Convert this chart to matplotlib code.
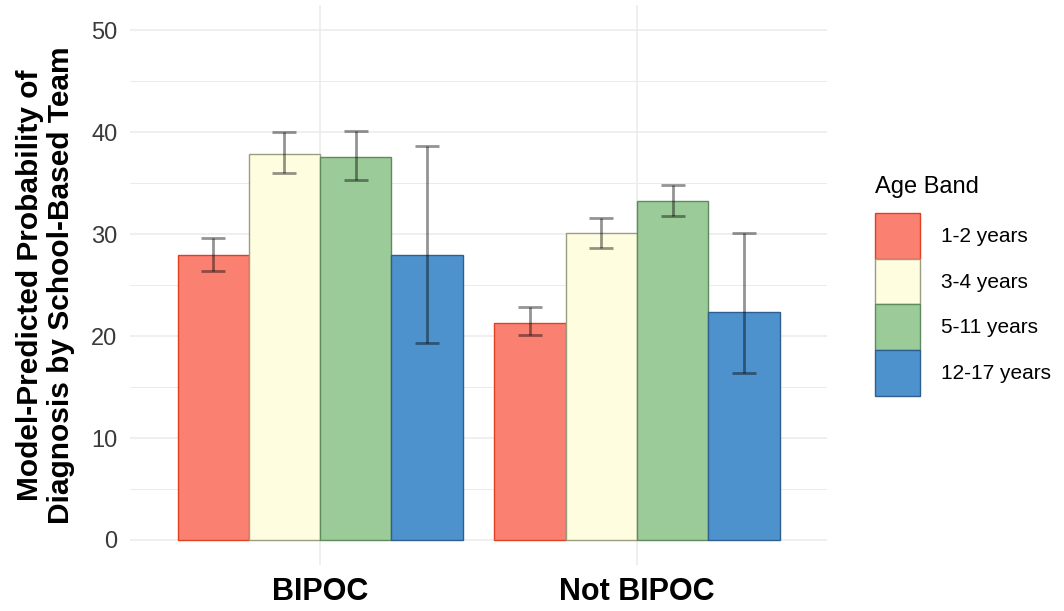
import numpy as np
import matplotlib
matplotlib.use('Agg')
import matplotlib.pyplot as plt
from matplotlib.patches import Patch

plt.rcParams['font.family'] = ['Liberation Sans', 'DejaVu Sans']

groups = ['BIPOC', 'Not BIPOC']
age_bands = ['1-2 years', '3-4 years', '5-11 years', '12-17 years']
prob = {
    '1-2 years': [27.9, 21.3],
    '3-4 years': [37.8, 30.1],
    '5-11 years': [37.6, 33.2],
    '12-17 years': [27.9, 22.4],
}
lower = {
    '1-2 years': [26.4, 20.1],
    '3-4 years': [36.0, 28.6],
    '5-11 years': [35.3, 31.8],
    '12-17 years': [19.3, 16.4],
}
upper = {
    '1-2 years': [29.6, 22.8],
    '3-4 years': [40.0, 31.6],
    '5-11 years': [40.1, 34.8],
    '12-17 years': [38.6, 30.1],
}

fills = ['#FA8072', '#FFFDE0', '#9BCB98', '#4D92CC']
edges = ['#E0401F', '#9C9C80', '#5E8A5C', '#2F5F8F']

fig = plt.figure(figsize=(10.64, 6.11), dpi=100)
ax = fig.add_axes([0.1222, 0.0745, 0.6551, 0.918])

x = np.arange(1, len(groups) + 1)
dodge = 0.9
w = dodge / len(age_bands)
for i, band in enumerate(age_bands):
    pos = x - dodge / 2 + w * (i + 0.5)
    vals = np.array(prob[band])
    ax.bar(pos, vals, width=w, color=fills[i], edgecolor=edges[i], linewidth=1.0, zorder=2)
    err = [vals - np.array(lower[band]), np.array(upper[band]) - vals]
    ax.errorbar(pos, vals, yerr=err, fmt='none', ecolor=(0, 0, 0, 0.42),
                elinewidth=2, capsize=8.5, capthick=2, zorder=3)

ax.set_xlim(0.4, 2.6)
ax.set_ylim(-2.5, 52.5)
ax.set_yticks([0, 10, 20, 30, 40, 50])
ax.set_yticks([5, 15, 25, 35, 45], minor=True)
ax.set_xticks(x)
ax.set_xticklabels(groups, fontsize=22, fontweight='bold')
ax.tick_params(axis='y', labelsize=17, labelcolor='#3A3A3A', length=0, pad=9)
ax.tick_params(axis='x', length=0, pad=8)
ax.tick_params(which='minor', length=0)
ax.grid(True, which='major', color='#EBEBEB', linewidth=1.1, zorder=0)
ax.grid(True, which='minor', axis='y', color='#EBEBEB', linewidth=0.7, zorder=0)
ax.set_axisbelow(True)
for s in ax.spines.values():
    s.set_visible(False)
ax.set_ylabel('Model-Predicted Probability of\nDiagnosis by School-Based Team',
              fontsize=21.5, fontweight='bold', linespacing=1.1, labelpad=12)

handles = [Patch(facecolor=fills[i], edgecolor=edges[i], label=age_bands[i]) for i in range(4)]
leg = fig.legend(handles=handles, title='Age Band', loc='upper left',
                 bbox_to_anchor=(0.815, 0.726), frameon=False, fontsize=15,
                 title_fontsize=17, handlelength=2.15, handleheight=3.0,
                 labelspacing=0.0, handletextpad=1.0, borderaxespad=0)
leg._legend_box.align = 'left'
leg._legend_box.sep = 11

fig.savefig('out.png', dpi=100)
